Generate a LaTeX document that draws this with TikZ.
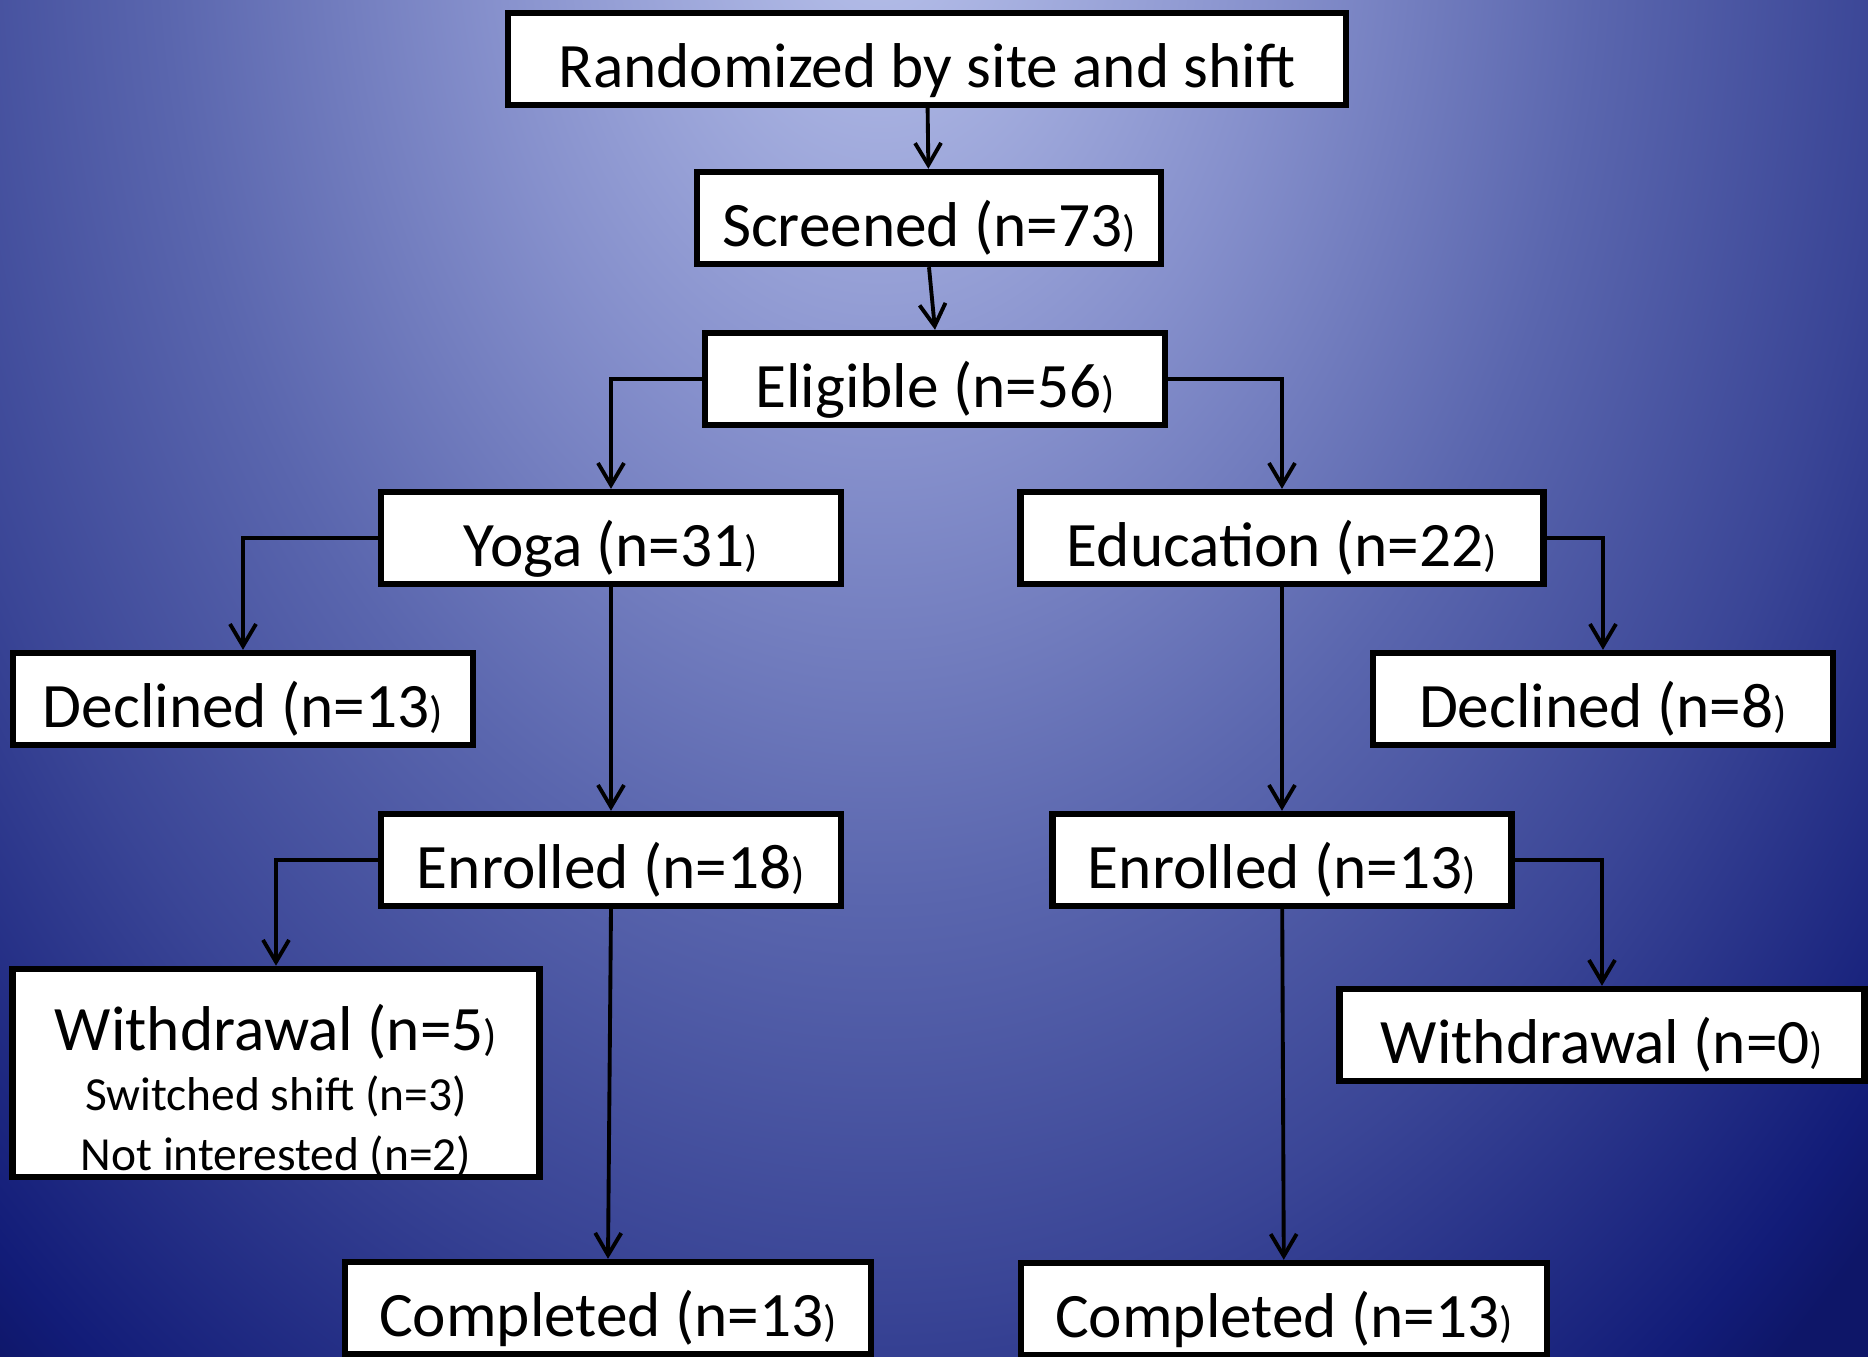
\documentclass[tikz,border=0pt]{standalone}
\usepackage{fontspec}
\setmainfont{Carlito}
\usetikzlibrary{arrows.meta}
\definecolor{bgdark}{RGB}{14,22,104}
\pgfdeclareradialshading{bgglow}{\pgfpoint{0bp}{0bp}}{%
  rgb(0bp)=(.725,.761,.922);
  rgb(7.2bp)=(.525,.565,.8);
  rgb(13bp)=(.353,.4,.682);
  rgb(18.2bp)=(.227,.271,.588);
  rgb(23.7bp)=(.071,.11,.471);
  rgb(25bp)=(.055,.086,.408);
  rgb(50bp)=(.055,.086,.408)}
\newcommand{\smrp}{{\fontsize{12.5}{12.5}\selectfont)}}
\begin{document}
\begin{tikzpicture}[x=0.01cm,y=-0.01cm,
    box/.style={draw=black,line width=1.8pt,fill=white,minimum height=0.92cm,
      inner sep=0pt,text height=0.62cm,text depth=0.06cm,
      font=\fontsize{18}{22}\selectfont},
    arr/.style={-{Straight Barb[length=2.2mm,width=2.6mm]},line width=1.1pt}]
    \useasboundingbox (0,0) rectangle (1868,1357);
    \fill[bgdark] (0,0) rectangle (1868,1357);
    \begin{scope}
        \clip (0,0) rectangle (1868,1357);
        \shade[shading=bgglow] (880,-100) ellipse (1382 and 1920);
    \end{scope}

    \node[box,minimum width=8.37cm] (rand) at (927,59) {Randomized by site and shift};
    \node[box,minimum width=4.64cm] (scr) at (929,218) {Screened (n=73\smrp};
    \node[box,minimum width=4.60cm] (elig) at (935,379) {Eligible (n=56\smrp};
    \node[box,minimum width=4.60cm] (yoga) at (611,538) {Yoga (n=31\smrp};
    \node[box,minimum width=5.23cm] (edu) at (1282,538) {Education (n=22\smrp};
    \node[box,minimum width=4.60cm] (dec13) at (243,699) {Declined (n=13\smrp};
    \node[box,minimum width=4.60cm] (dec8) at (1603,699) {Declined (n=8\smrp};
    \node[box,minimum width=4.60cm] (enr18) at (611,860) {Enrolled (n=18\smrp};
    \node[box,minimum width=4.59cm] (enr13) at (1282,860) {Enrolled (n=13\smrp};
    \node[box,minimum width=5.27cm,minimum height=2.01cm,align=center,
      text height=,text depth=,font=\fontsize{13.5}{17}\selectfont] (wd5) at (276,1073)
      {\rule{0pt}{0.82cm}{\fontsize{18}{17}\selectfont Withdrawal (n=5\smrp}\\
       Switched shift (n=3)\\
       Not interested (n=2)};
    \node[box,minimum width=5.25cm] (wd0) at (1602,1035) {Withdrawal (n=0\smrp};
    \node[box,minimum width=5.26cm] (compl) at (608,1308) {Completed (n=13\smrp};
    \node[box,minimum width=5.26cm] (compr) at (1284,1309) {Completed (n=13\smrp};

    \draw[arr] (rand) -- (scr);
    \draw[arr] (scr.south) -- (elig.north);
    \draw[arr] (elig.west) -| (yoga.north);
    \draw[arr] (elig.east) -| (edu.north);
    \draw[arr] (yoga.west) -| (dec13.north);
    \draw[arr] (yoga) -- (enr18);
    \draw[arr] (edu.east) -| (dec8.north);
    \draw[arr] (edu) -- (enr13);
    \draw[arr] (enr18.west) -| (wd5.north);
    \draw[arr] (enr18.south) -- (compl.north);
    \draw[arr] (enr13.east) -| (wd0.north);
    \draw[arr] (enr13) -- (compr);
\end{tikzpicture}
\end{document}
